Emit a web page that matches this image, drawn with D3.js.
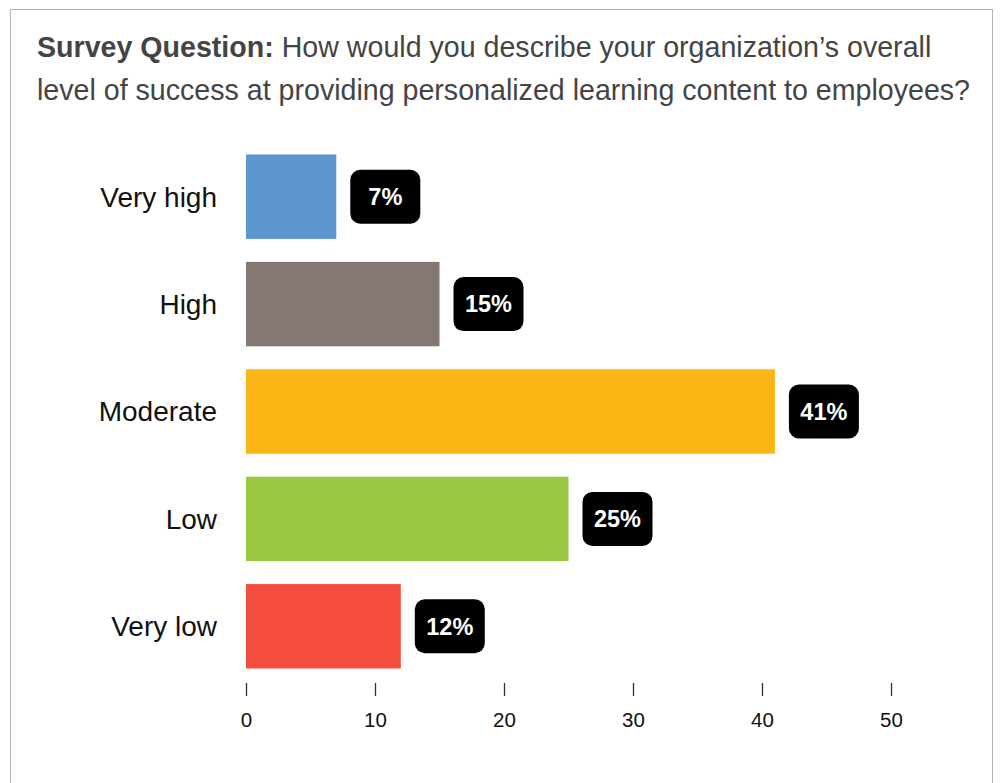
<!DOCTYPE html>
<html>
<head>
<meta charset="utf-8">
<script src="https://cdn.jsdelivr.net/npm/d3@7"></script>
<style>
  html, body { margin: 0; padding: 0; background: #fff; }
  svg { display: block; font-family: "Liberation Sans", Arial, Helvetica, sans-serif; }
</style>
</head>
<body>
<svg id="chart" width="1002" height="783"></svg>
<script>
// Survey responses (% of respondents)
const categories = ["Very high", "High", "Moderate", "Low", "Very low"];
const values = [7, 15, 41, 25, 12];
const barColors = ["#5B96CF", "#857873", "#FBB515", "#99C942", "#F44D3E"];
const xTicks = [0, 10, 20, 30, 40, 50];

const svg = d3.select("#chart");

// Panel frame
svg.append("rect")
  .attr("x", 10.5).attr("y", 9.5)
  .attr("width", 982).attr("height", 800)
  .attr("fill", "#fff").attr("stroke", "#b3b3b3").attr("stroke-width", 1);

// Title
const title = svg.append("text")
  .attr("x", 37).attr("y", 57)
  .attr("font-size", 28.6).attr("fill", "#444");
title.append("tspan").attr("font-weight", "bold").text("Survey Question:");
title.append("tspan").text(" How would you describe your organization\u2019s overall");
svg.append("text")
  .attr("x", 37).attr("y", 100)
  .attr("font-size", 28.6).attr("fill", "#444")
  .text("level of success at providing personalized learning content to employees?");

// Scales
const x = d3.scaleLinear().domain([0, 50]).range([246, 891]);
const y = d3.scaleBand().domain(categories).range([143, 680]).paddingInner(0.214).paddingOuter(0.107);

// Bars
svg.append("g").selectAll("rect")
  .data(categories)
  .join("rect")
  .attr("x", x(0))
  .attr("y", d => y(d))
  .attr("width", (d, i) => x(values[i]) - x(0))
  .attr("height", y.bandwidth())
  .attr("fill", (d, i) => barColors[i]);

// Category labels
svg.append("g").selectAll("text")
  .data(categories)
  .join("text")
  .attr("x", 217)
  .attr("y", d => y(d) + y.bandwidth() / 2)
  .attr("dy", "0.35em")
  .attr("text-anchor", "end")
  .attr("font-size", 28)
  .attr("fill", "#111")
  .text(d => d);

// Value badges
const badges = svg.append("g").selectAll("g")
  .data(categories)
  .join("g")
  .attr("transform", (d, i) => `translate(${x(values[i]) + 14},${y(d) + y.bandwidth() / 2})`);
badges.append("rect")
  .attr("x", 0).attr("y", -27)
  .attr("width", 70).attr("height", 54)
  .attr("rx", 10).attr("ry", 10)
  .attr("fill", "#000");
badges.append("text")
  .attr("x", 35).attr("y", 0)
  .attr("dy", "0.35em")
  .attr("text-anchor", "middle")
  .attr("font-size", 23.5).attr("font-weight", "bold")
  .attr("fill", "#fff")
  .text((d, i) => values[i] + "%");

// X axis
const axis = d3.axisBottom(x).tickValues(xTicks).tickSize(13).tickPadding(16).tickSizeOuter(0);
const gx = svg.append("g").attr("transform", "translate(0,683)").call(axis);
gx.select(".domain").remove();
gx.selectAll(".tick line").attr("stroke", "#333").attr("stroke-width", 1.3);
gx.selectAll(".tick text")
  .attr("font-size", 20.5)
  .attr("fill", "#111")
  .attr("font-family", "'Liberation Sans', Arial, sans-serif");
</script>
</body>
</html>
